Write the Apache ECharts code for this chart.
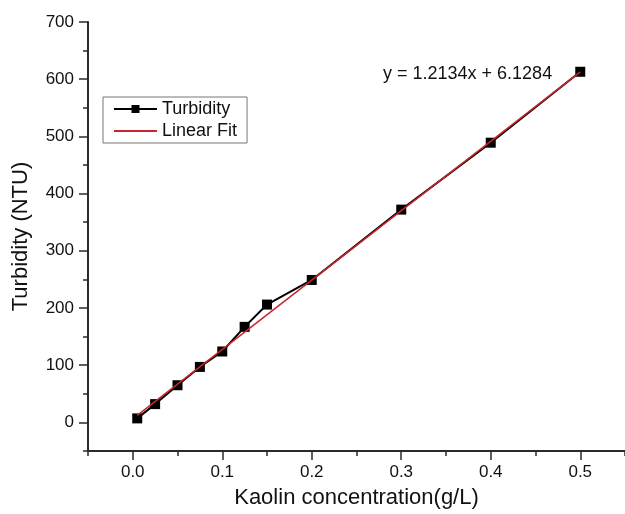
<!DOCTYPE html>
<html><head><meta charset="utf-8">
<script src="https://cdn.jsdelivr.net/npm/echarts@6/dist/echarts.min.js"></script>
<style>html,body{margin:0;padding:0;background:#fff}#c{width:625px;height:514px}</style>
</head><body><div id="c"></div>
<script>
const concentration = [0.005, 0.025, 0.05, 0.075, 0.1, 0.125, 0.15, 0.2, 0.3, 0.4, 0.5];
const turbidity = [7, 32, 65, 97, 124, 167, 206, 249, 372, 489, 613];
const fitSlope = 1213.4, fitIntercept = 6.1284;
const fitLabel = 'y = 1.2134x + 6.1284';
const xMajorTicks = [0, 0.1, 0.2, 0.3, 0.4, 0.5];
const yMajorTicks = [0, 100, 200, 300, 400, 500, 600, 700];

const FONT = '"Liberation Sans", Arial, sans-serif';
const AX = '#2a2a2a';
const turbData = concentration.map((x, i) => [x, turbidity[i]]);
const xs = [concentration[0], concentration[concentration.length - 1]];
const fitData = xs.map(x => [x, fitSlope * x + fitIntercept]);

const chart = echarts.init(document.getElementById('c'), null, {renderer: 'canvas'});
const baseX = {
  type: 'value', min: -0.05, max: 0.55, interval: 0.05, position: 'bottom',
  splitLine: {show: false},
  axisLine: {show: true, onZero: false, lineStyle: {color: AX, width: 2}},
};
const baseY = {
  type: 'value', min: -50, max: 700, interval: 50, position: 'left',
  splitLine: {show: false},
  axisLine: {show: true, onZero: false, lineStyle: {color: AX, width: 2}},
};
chart.setOption({
  animation: false,
  grid: {left: 88, top: 22, width: 540, height: 434, containLabel: false},
  xAxis: [
    Object.assign({}, baseX, {
      name: 'Kaolin concentration(g/L)', nameLocation: 'middle', nameGap: 36,
      nameTextStyle: {fontFamily: FONT, fontSize: 22, color: '#111'},
      axisTick: {show: true, length: 5, lineStyle: {color: AX, width: 1.5}},
      axisLabel: {
        show: true, margin: 13, fontFamily: FONT, fontSize: 17, color: '#111',
        customValues: xMajorTicks,
        formatter: v => v.toFixed(1)
      }
    }),
    Object.assign({}, baseX, {
      axisLine: {show: false, onZero: false},
      axisLabel: {show: false},
      axisTick: {show: true, length: 9, customValues: xMajorTicks, lineStyle: {color: AX, width: 1.5}}
    })
  ],
  yAxis: [
    Object.assign({}, baseY, {
      name: 'Turbidity (NTU)', nameLocation: 'middle', nameGap: 56,
      nameTextStyle: {fontFamily: FONT, fontSize: 22, color: '#111'},
      axisTick: {show: true, length: 5, lineStyle: {color: AX, width: 1.5}},
      axisLabel: {
        show: true, margin: 14, fontFamily: FONT, fontSize: 17, color: '#111',
        customValues: yMajorTicks,
        formatter: v => String(v)
      }
    }),
    Object.assign({}, baseY, {
      axisLine: {show: false, onZero: false},
      axisLabel: {show: false},
      axisTick: {show: true, length: 9, customValues: yMajorTicks, lineStyle: {color: AX, width: 1.5}}
    })
  ],
  legend: {
    show: true, orient: 'vertical', left: 103, top: 97,
    backgroundColor: '#fff',
    borderColor: '#777', borderWidth: 1, borderRadius: 0,
    padding: [3, 10, 3, 10], itemGap: 4, itemWidth: 43, itemHeight: 10,
    textStyle: {fontFamily: FONT, fontSize: 18, color: '#111'},
    data: [
      {name: 'Turbidity'},
      {name: 'Linear Fit', itemStyle: {opacity: 0}}
    ]
  },
  graphic: [{
    type: 'text', left: 383, top: 65,
    style: {text: fitLabel, font: '18px ' + FONT, fill: '#111'}
  }],
  series: [
    {
      name: 'Turbidity', type: 'line', xAxisIndex: 0, yAxisIndex: 0,
      data: turbData, symbol: 'rect', symbolSize: 10, showSymbol: true,
      lineStyle: {color: '#000', width: 2},
      itemStyle: {color: '#000'}, z: 2
    },
    {
      name: 'Linear Fit', type: 'line', xAxisIndex: 0, yAxisIndex: 0,
      data: fitData, showSymbol: false, symbol: 'none',
      lineStyle: {color: '#c8262c', width: 1.5},
      itemStyle: {color: '#c8262c'}, z: 3
    }
  ]
});
</script></body></html>
